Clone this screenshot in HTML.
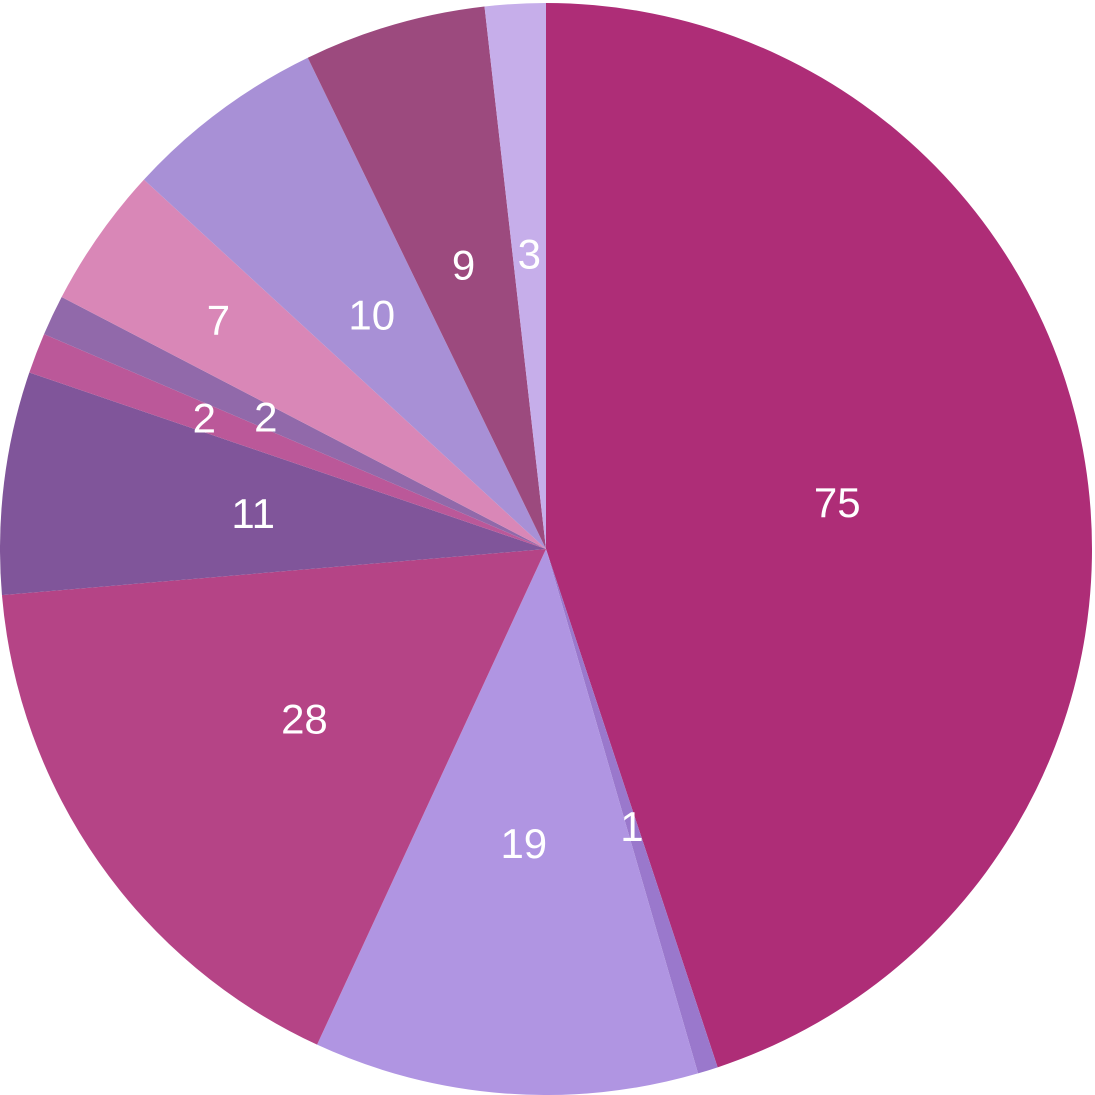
<!DOCTYPE html>
<html><head><meta charset="utf-8"><style>
html,body{margin:0;padding:0;background:#fff;}
svg{display:block;}
text{font-family:"Liberation Sans",sans-serif;font-size:42px;fill:#fff;}
</style></head><body>
<svg id="chart" width="1095" height="1095" viewBox="0 0 1095 1095"></svg>
<script>
const categories = ["a","b","c","d","e","f","g","h","i","j","k"];
const values = [75,1,19,28,11,2,2,7,10,9,3];
const labels = ["75","1","19","28","11","2","2","7","10","9","3"];
const colors = ["#ae2d77","#9a78cc","#b095e2","#b54486","#80559a","#bb5899","#9169aa","#d987b7","#a890d6","#9c4a7e","#c6aeea"];
const labelRadius = [295,290,295,295,295,366,310,400,292,296,296];
const svg = document.getElementById('chart');
const NS = "http://www.w3.org/2000/svg";
const cx = 546, cy = 549, R = 546;
const total = values.reduce((a,b)=>a+b,0);
function pt(a,r){return [cx + r*Math.sin(a), cy - r*Math.cos(a)];}
let acc = 0;
const mids = [];
values.forEach((v,i)=>{
  const a0 = acc/total*2*Math.PI; acc += v;
  const a1 = acc/total*2*Math.PI;
  mids.push((a0+a1)/2);
  const p0 = pt(a0,R), p1 = pt(a1,R);
  const large = (a1-a0) > Math.PI ? 1 : 0;
  const path = document.createElementNS(NS,'path');
  path.setAttribute('d',`M${cx},${cy} L${p0[0]},${p0[1]} A${R},${R} 0 ${large} 1 ${p1[0]},${p1[1]} Z`);
  path.setAttribute('fill',colors[i]);
  
  
  svg.appendChild(path);
});
values.forEach((v,i)=>{
  const p = pt(mids[i],labelRadius[i]);
  const t = document.createElementNS(NS,'text');
  t.setAttribute('x',p[0]); t.setAttribute('y',p[1]+15);
  t.setAttribute('text-anchor','middle');
  t.textContent = labels[i];
  
  
  svg.appendChild(t);
});
</script>
</body></html>
